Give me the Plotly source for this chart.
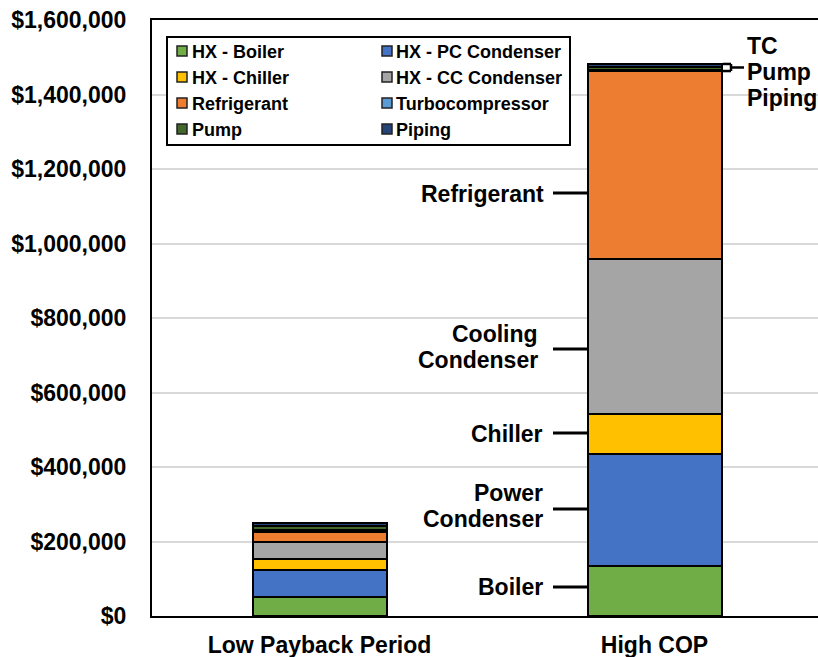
import plotly.graph_objects as go

# Cost breakdown for the two design cases
cases = ["Low Payback Period", "High COP"]
components = ["HX - Boiler", "HX - PC Condenser", "HX - Chiller", "HX - CC Condenser",
              "Refrigerant", "Turbocompressor", "Pump", "Piping"]
low_payback = [51000, 72000, 30000, 46000, 27000, 5000, 10000, 9000]
high_cop = [133000, 302000, 107000, 416000, 505000, 4000, 8000, 7000]
colors = ["#70AD47", "#4472C4", "#FFC000", "#A5A5A5",
          "#ED7D31", "#5B9BD5", "#43682B", "#264478"]
y_ticks = [0, 200000, 400000, 600000, 800000, 1000000, 1200000, 1400000, 1600000]
y_tick_text = ["$" + f"{v:,}" for v in y_ticks]

FONT = "Liberation Sans, Arial, sans-serif"
W, H = 818, 657
L, R, T, B = 152, 818, 20, 616


def px(x):
    return (x - L) / (R - L)


def py(y):
    return (B - y) / (B - T)


fig = go.Figure()
for name, lo, hi, col in zip(components, low_payback, high_cop, colors):
    fig.add_trace(go.Bar(
        x=cases, y=[lo, hi], name=name, width=0.4,
        marker=dict(color=col, line=dict(color="black", width=2)),
        showlegend=False,
    ))

shapes = []
annotations = []

# Legend panel
shapes.append(dict(type="rect", xref="paper", yref="paper",
                   x0=px(167), x1=px(570), y0=py(145), y1=py(37),
                   line=dict(color="black", width=2), fillcolor="white"))
col_x = [(177, 192), (382, 396)]
row_y = [51, 77, 103, 129]
for i, (name, col) in enumerate(zip(components, colors)):
    r, c = divmod(i, 2)
    sx, tx = col_x[c]
    yc = row_y[r]
    shapes.append(dict(type="rect", xref="paper", yref="paper",
                       x0=px(sx), x1=px(sx + 10), y0=py(yc + 5), y1=py(yc - 5),
                       line=dict(color="#222222", width=1.5), fillcolor=col))
    annotations.append(dict(xref="paper", yref="paper", x=px(tx - 2), y=py(yc + 1),
                            xanchor="left", yanchor="middle", showarrow=False,
                            text=name,
                            font=dict(family=FONT, size=18, color="black", weight=700)))

# Segment labels for the High COP bar
labels = [
    (["Refrigerant"], [194], 193, 545),
    (["Cooling", "Condenser"], [334, 360], 349, 539),
    (["Chiller"], [434], 433, 544),
    (["Power", "Condenser"], [493, 519], 509, 544),
    (["Boiler"], [587], 587, 544),
]
for lines, ys, yline, xr in labels:
    for txt, yy in zip(lines, ys):
        annotations.append(dict(xref="paper", yref="paper", x=px(xr + 1), y=py(yy),
                                xanchor="right", yanchor="middle", showarrow=False,
                                text=txt,
                                font=dict(family=FONT, size=23, color="black", weight=700)))
    shapes.append(dict(type="line", xref="paper", yref="paper",
                       x0=px(553), x1=px(587), y0=py(yline), y1=py(yline),
                       line=dict(color="black", width=3)))

# Bracket for the thin top segments
top_total = sum(high_cop)
top_refrig = sum(high_cop[:5])
mid = (top_total + top_refrig) / 2
for x0, x1, y0, y1 in [(723, 731, top_total, top_total),
                       (723, 731, top_refrig, top_refrig),
                       (731, 731, top_refrig, top_total),
                       (731, 744, mid, mid)]:
    shapes.append(dict(type="line", xref="paper", yref="y",
                       x0=px(x0), x1=px(x1), y0=y0, y1=y1,
                       line=dict(color="black", width=2.5)))
for txt, yy in zip(["TC", "Pump", "Piping"], [46, 72, 98]):
    annotations.append(dict(xref="paper", yref="paper", x=px(745), y=py(yy),
                            xanchor="left", yanchor="middle", showarrow=False,
                            text=txt,
                            font=dict(family=FONT, size=23, color="black", weight=700)))

fig.update_layout(
    width=W, height=H,
    margin=dict(l=L, r=W - R, t=T, b=H - B, pad=0, autoexpand=False),
    barmode="stack",
    plot_bgcolor="white", paper_bgcolor="white",
    font=dict(family=FONT, color="black", weight=700),
    shapes=shapes, annotations=annotations,
    xaxis=dict(
        range=[-0.5, 1.488], showline=True, mirror=True, automargin=False,
        linecolor="black", linewidth=2, ticks="",
        tickfont=dict(family=FONT, size=23, color="black", weight=700),
        ticklabelstandoff=7,
    ),
    yaxis=dict(
        range=[0, 1600000], tickvals=y_ticks, ticktext=y_tick_text, automargin=False,
        showline=True, linecolor="black", linewidth=2,
        showgrid=True, gridcolor="#D9D9D9", gridwidth=2,
        zeroline=False, ticks="",
        tickfont=dict(family=FONT, size=23, color="black", weight=700),
        ticklabelstandoff=19,
    ),
)

fig.write_html("out.html")
